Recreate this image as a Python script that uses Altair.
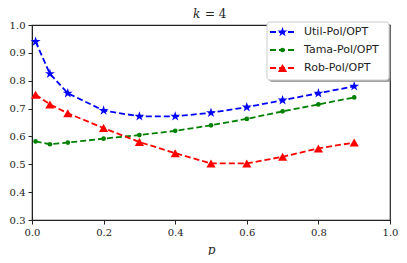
import altair as alt
import pandas as pd

p = [0.01, 0.05, 0.1, 0.2, 0.3, 0.4, 0.5, 0.6, 0.7, 0.8, 0.9]
util = [0.94, 0.825, 0.755, 0.693, 0.672, 0.672, 0.685, 0.705, 0.73, 0.755, 0.78]
tama = [0.582, 0.572, 0.578, 0.592, 0.605, 0.62, 0.64, 0.663, 0.69, 0.715, 0.74]
rob = [0.75, 0.715, 0.683, 0.63, 0.58, 0.54, 0.503, 0.503, 0.527, 0.557, 0.578]

series = ["Util-Pol/OPT", "Tama-Pol/OPT", "Rob-Pol/OPT"]
colors = ["#0000ff", "#008000", "#ff0000"]
STAR = ("M0,-1L0.2245,-0.309L0.951,-0.309L0.363,0.118L0.588,0.809L0,0.382"
        "L-0.588,0.809L-0.363,0.118L-0.951,-0.309L-0.2245,-0.309Z")
shapes = [STAR, "circle", "triangle-up"]
sizes = [110, 22, 85]

W, H = 358, 195

rows = []
for s, vals in zip(series, [util, tama, rob]):
    for x, v in zip(p, vals):
        rows.append({"p": x, "v": v, "s": s})
df = pd.DataFrame(rows)

X = alt.X("p:Q", scale=alt.Scale(domain=[0, 1], nice=False), title="p",
          axis=alt.Axis(values=[0, 0.2, 0.4, 0.6, 0.8, 1.0], format=".1f"))
Y = alt.Y("v:Q", scale=alt.Scale(domain=[0.3, 1.0], nice=False), title=None,
          axis=alt.Axis(values=[0.3, 0.4, 0.5, 0.6, 0.7, 0.8, 0.9, 1.0], format=".1f"))
C = alt.Color("s:N", scale=alt.Scale(domain=series, range=colors), legend=None)

base = alt.Chart(df)
layers = [base.mark_line(strokeDash=[6, 3], strokeWidth=1.8).encode(x=X, y=Y, color=C, detail="s:N")]
for s, c, sh, sz in zip(series, colors, shapes, sizes):
    layers.append(base.transform_filter(alt.datum.s == s).mark_point(
        shape=sh, filled=True, color=c, size=sz, opacity=1, strokeWidth=0).encode(x=X, y=Y))

one = pd.DataFrame({"a": [0]})
# title
layers.append(alt.Chart(one).mark_text(text="k", font="DejaVu Serif", fontStyle="italic", fontSize=12,
              align="left", baseline="middle", color="#222222").encode(x=alt.value(161), y=alt.value(-11)))
layers.append(alt.Chart(one).mark_text(text="= 4", font="DejaVu Serif", fontSize=12,
              align="left", baseline="middle", color="#222222").encode(x=alt.value(173), y=alt.value(-11)))

# legend box
lx0, lx1, ly0, ly1 = 235, 357, -3, 55
layers.append(alt.Chart(one).mark_rect(fill="#777777", opacity=0.7, cornerRadius=3).encode(
    x=alt.value(lx0 + 2), x2=alt.value(lx1 + 2), y=alt.value(ly0 + 2), y2=alt.value(ly1 + 2)))
layers.append(alt.Chart(one).mark_rect(fill="white", stroke="#cccccc", strokeWidth=1, cornerRadius=3).encode(
    x=alt.value(lx0), x2=alt.value(lx1), y=alt.value(ly0), y2=alt.value(ly1)))
for i, (s, c, sh, sz) in enumerate(zip(series, colors, shapes, sizes)):
    yy = 7 + 18 * i
    layers.append(alt.Chart(one).mark_rule(color=c, strokeDash=[6, 3], strokeWidth=1.8).encode(
        x=alt.value(238), x2=alt.value(263), y=alt.value(yy)))
    layers.append(alt.Chart(one).mark_point(shape=sh, filled=True, color=c, size=sz, opacity=1,
                                            strokeWidth=0).encode(x=alt.value(250.5), y=alt.value(yy)))
    layers.append(alt.Chart(one).mark_text(text=s, font="DejaVu Sans", fontSize=11, align="left",
                                           baseline="middle", color="#222222").encode(
        x=alt.value(272), y=alt.value(yy)))

chart = alt.layer(*layers).properties(
    width=W, height=H, autosize=alt.AutoSizeParams(type="none"),
    padding={"left": 24, "top": 17, "right": 9, "bottom": 35},
).configure_view(stroke="#222222", strokeWidth=1.2).configure_axis(
    labelFont="DejaVu Serif", labelFontSize=10, labelColor="#222222", labelFlush=False,
    titleFont="DejaVu Serif", titleFontSize=12, titleFontStyle="italic", titleFontWeight="normal",
    titleColor="#222222", grid=False, domainColor="#222222", tickColor="#222222",
    tickSize=4, labelPadding=3,
).configure_axisX(titlePadding=7)

chart.save("out.html", embed_options={"renderer": "svg", "actions": False})
